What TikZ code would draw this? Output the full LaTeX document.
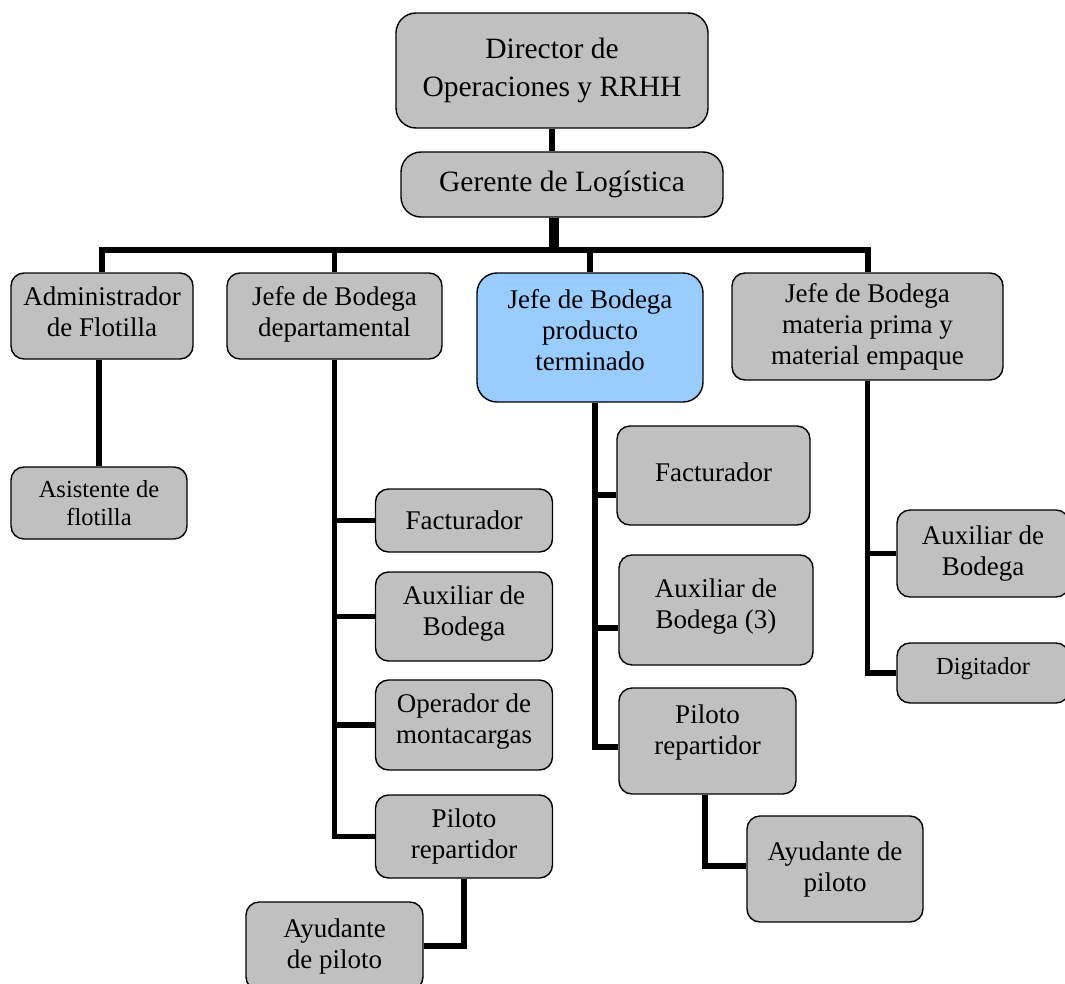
\documentclass[tikz,border=0pt]{standalone}
\usepackage{fontspec}
\setmainfont{Liberation Serif}
\usetikzlibrary{backgrounds}
\definecolor{boxgray}{RGB}{192,192,192}
\definecolor{boxblue}{RGB}{153,204,255}
% extra depth below the last line, lifts the text inside its box
\newcommand\lowpad[1]{\rule[-#1pt]{0pt}{#1pt}}
\begin{document}
\begin{tikzpicture}[x=1pt,y=-1pt,
  box/.style={draw=black, line width=1.4pt, rounded corners=13pt, fill=boxgray,
    align=center, inner sep=2pt, font=\fontsize{27}{31}\selectfont},
  topbox/.style={box, rounded corners=20pt, font=\fontsize{29.5}{38}\selectfont},
  smallbox/.style={box, font=\fontsize{24.5}{28}\selectfont},
  keybox/.style={box, fill=boxblue, rounded corners=20pt},
  link/.style={line width=5.5pt, line join=miter, line cap=butt},
  heavylink/.style={line width=10pt},
]
\useasboundingbox (0,0) rectangle (1065,983);
\clip (0,0) rectangle (1065,983);

% ---- top of the chart
\node[topbox, minimum width=312pt, minimum height=115pt] (dir) at (552,70.5)
  {Director de\\Operaciones y RRHH};
\node[topbox, minimum width=322pt, minimum height=65pt] (ger) at (562,184.5)
  {Gerente de Logística};

% ---- second level
\node[box, minimum width=182pt, minimum height=86pt] (adm) at (102,316)
  {Administrador\\de Flotilla\lowpad{8}};
\node[box, minimum width=215pt, minimum height=86pt] (dept) at (334.5,316)
  {Jefe de Bodega\\departamental\lowpad{9}};
\node[keybox, minimum width=226pt, minimum height=129pt] (prod) at (590,337.5)
  {Jefe de Bodega\\producto\\terminado\lowpad{16}};
\node[box, minimum width=271pt, minimum height=107pt] (mat) at (867.5,326.5)
  {Jefe de Bodega\\materia prima y\\material empaque};

% ---- fleet
\node[smallbox, minimum width=176pt, minimum height=72pt] (asist) at (99,503)
  {Asistente de\\flotilla};

% ---- departmental warehouse
\node[box, minimum width=177pt, minimum height=63pt] (dfact) at (464,520.5)
  {Facturador};
\node[box, minimum width=177pt, minimum height=89pt] (daux) at (464,616.5)
  {Auxiliar de\\Bodega\lowpad{11}};
\node[box, minimum width=177pt, minimum height=90pt] (dop) at (464,725)
  {Operador de\\montacargas\lowpad{13}};
\node[box, minimum width=177pt, minimum height=83pt] (dpil) at (464,836.5)
  {Piloto\\repartidor};
\node[box, minimum width=177pt, minimum height=88pt] (dayu) at (334.5,946)
  {Ayudante\\de piloto};

% ---- finished product warehouse
\node[box, minimum width=193pt, minimum height=99pt] (pfact) at (713.5,475.5)
  {Facturador\lowpad{7}};
\node[box, minimum width=194pt, minimum height=110pt] (paux) at (716,610)
  {Auxiliar de\\Bodega (3)\lowpad{12}};
\node[box, minimum width=177pt, minimum height=106pt] (ppil) at (707.5,741)
  {Piloto\\repartidor\lowpad{22}};
\node[box, minimum width=176pt, minimum height=106pt] (payu) at (835,869)
  {Ayudante de\\piloto};

% ---- raw material warehouse
\node[box, minimum width=172pt, minimum height=87pt] (maux) at (983,553.5)
  {Auxiliar de\\Bodega};
\node[smallbox, minimum width=172pt, minimum height=60pt] (mdig) at (983,673)
  {Digitador\lowpad{14}};

% ---- connectors
\coordinate (bus) at (554,250);
\coordinate (ptrunk) at ([xshift=5pt]prod.south);
\coordinate (pfactIn) at ([yshift=-19.5pt]pfact.west);
\coordinate (pauxIn) at ([yshift=-18pt]paux.west);
\coordinate (ppilIn) at ([yshift=-6pt]ppil.west);
\coordinate (payuIn) at ([yshift=3pt]payu.west);
\coordinate (ppilOut) at ([xshift=-2.5pt]ppil.south);

\begin{pgfonlayer}{background}
  \draw[link, line width=6pt] (dir.south) -- (dir.south |- ger.north);
  \draw[heavylink] (bus |- ger.south) -- (bus);
  \draw[link, line width=6pt] (adm.north) |- (mat.north |- bus) -- (mat.north);
  \draw[link] (dept.north |- bus) -- (dept.north);
  \draw[link] (prod.north |- bus) -- (prod.north);

  \draw[link] (asist.north |- adm.south) -- (asist.north);

  \draw[link] (dept.south) |- (dpil.west);
  \draw[link] (dept.south |- dfact.west) -- (dfact.west);
  \draw[link] (dept.south |- daux.west) -- (daux.west);
  \draw[link] (dept.south |- dop.west) -- (dop.west);
  \draw[link] (dpil.south) |- (dayu.east);

  \draw[link] (ptrunk) |- (ppilIn);
  \draw[link] (ptrunk |- pfactIn) -- (pfactIn);
  \draw[link] (ptrunk |- pauxIn) -- (pauxIn);
  \draw[link] (ppilOut) |- (payuIn);

  \draw[link] (mat.south) |- (mdig.west);
  \draw[link] (mat.south |- maux.west) -- (maux.west);
\end{pgfonlayer}
\end{tikzpicture}
\end{document}
